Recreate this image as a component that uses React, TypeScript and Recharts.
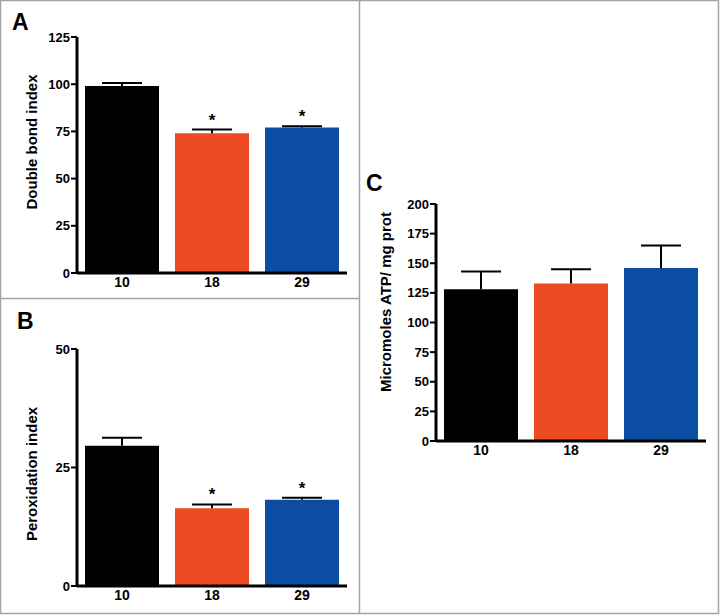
import React from "react";
import { BarChart, Bar, XAxis, YAxis, Cell, LabelList } from "recharts";

const groups = ["10", "18", "29"];

// A: double bond index
const dbiMeans = [99, 74, 77];
const dbiErr = [1.7, 2, 0.7];
const dbiSig = ["", "*", "*"];
const dbiTicks = [0, 25, 50, 75, 100, 125];

// B: peroxidation index
const piMeans = [29.6, 16.4, 18.2];
const piErr = [1.7, 0.8, 0.4];
const piSig = ["", "*", "*"];
const piTicks = [0, 25, 50];

// C: ATP content
const atpMeans = [128, 133, 146];
const atpErr = [15, 12, 19];
const atpSig = ["", "", ""];
const atpTicks = [0, 25, 50, 75, 100, 125, 150, 175, 200];

const barColors = ["#000000", "#ee4b23", "#0b4da2"];
const font = "'Liberation Sans', Arial, Helvetica, sans-serif";
const frame = "#a3a3a3";

const build = (means: number[], errs: number[], sig: string[]) =>
  groups.map((g, i) => ({ group: g, value: means[i], err: errs[i], sig: sig[i] }));

// upper error bar only: the stacked "err" segment is drawn as a T
const ErrShape = (props: any) => {
  const { x, y, width, height } = props;
  const cx = x + width / 2;
  return (
    <g stroke="#000" strokeWidth={2}>
      <line x1={cx} y1={y + height} x2={cx} y2={y} />
      <line x1={cx - 20} y1={y} x2={cx + 20} y2={y} />
    </g>
  );
};

interface PanelProps {
  means: number[];
  errs: number[];
  sig: string[];
  ticks: number[];
  title: string;
  titleX: number;
  titleY: number;
  titleSize: number;
  left: number;
  top: number;
  width: number;
  height: number;
  marginTop: number;
  xAxisHeight: number;
}

function Panel(p: PanelProps) {
  const data = build(p.means, p.errs, p.sig);
  return (
    <div style={{ position: "absolute", left: p.left, top: p.top }}>
      <BarChart
        width={p.width}
        height={p.height}
        data={data}
        barSize={74}
        margin={{ top: p.marginTop, right: 12, left: 0, bottom: 0 }}
      >
        <XAxis
          dataKey="group"
          height={p.xAxisHeight}
          tickLine={false}
          tickSize={0}
          tickMargin={4}
          axisLine={{ stroke: "#000", strokeWidth: 3 }}
          tick={{ fill: "#000", fontSize: 14, fontWeight: "bold", fontFamily: font }}
        />
        <YAxis
          width={77}
          domain={[0, p.ticks[p.ticks.length - 1]]}
          ticks={p.ticks}
          interval={0}
          tickSize={6}
          tickMargin={1}
          axisLine={{ stroke: "#000", strokeWidth: 3 }}
          tickLine={{ stroke: "#000", strokeWidth: 2 }}
          tick={{ fill: "#000", fontSize: 13, fontWeight: "bold", fontFamily: font }}
          label={{
            value: p.title,
            content: () => (
              <text
                x={p.titleX}
                y={p.titleY}
                transform={`rotate(-90 ${p.titleX} ${p.titleY})`}
                textAnchor="middle"
                dominantBaseline="central"
                fontFamily={font}
                fontWeight="bold"
                fontSize={p.titleSize}
                fill="#000"
              >
                {p.title}
              </text>
            ),
          }}
        />
        <Bar dataKey="value" stackId="s" isAnimationActive={false}>
          {data.map((d, i) => (
            <Cell key={d.group} fill={barColors[i]} />
          ))}
        </Bar>
        <Bar dataKey="err" stackId="s" shape={ErrShape} isAnimationActive={false}>
          <LabelList
            dataKey="sig"
            position="top"
            offset={4}
            style={{ fill: "#000", fontSize: 17, fontWeight: "bold", fontFamily: font }}
          />
        </Bar>
      </BarChart>
    </div>
  );
}

export default function App() {
  const letter = { fontFamily: font, fontWeight: "bold" as const, fontSize: 23, fill: "#000" };
  return (
    <div
      style={{
        position: "absolute",
        left: 0,
        top: 0,
        width: 720,
        height: 615,
        background: "#fff",
        overflow: "hidden",
      }}
    >
      <svg width={720} height={615} style={{ position: "absolute", left: 0, top: 0 }}>
        <rect x={0.5} y={0.5} width={718} height={613} fill="none" stroke={frame} strokeWidth={1.5} />
        <line x1={359.5} y1={0} x2={359.5} y2={614} stroke={frame} strokeWidth={1.5} />
        <line x1={0} y1={298.5} x2={359.5} y2={298.5} stroke={frame} strokeWidth={1.5} />
        <text x={12} y={30} {...letter}>A</text>
        <text x={17} y={329} {...letter}>B</text>
        <text x={366} y={191} {...letter}>C</text>
      </svg>
      <Panel
        means={dbiMeans}
        errs={dbiErr}
        sig={dbiSig}
        ticks={dbiTicks}
        title="Double bond index"
        titleX={31}
        titleY={142}
        titleSize={15}
        left={0}
        top={0}
        width={359}
        height={298}
        marginTop={37}
        xAxisHeight={25}
      />
      <Panel
        means={piMeans}
        errs={piErr}
        sig={piSig}
        ticks={piTicks}
        title="Peroxidation index"
        titleX={31}
        titleY={176}
        titleSize={15}
        left={0}
        top={298}
        width={359}
        height={315}
        marginTop={51}
        xAxisHeight={27}
      />
      <Panel
        means={atpMeans}
        errs={atpErr}
        sig={atpSig}
        ticks={atpTicks}
        title="Micromoles ATP/ mg prot"
        titleX={26}
        titleY={152}
        titleSize={15}
        left={359}
        top={150}
        width={359}
        height={320}
        marginTop={54}
        xAxisHeight={29}
      />
    </div>
  );
}
